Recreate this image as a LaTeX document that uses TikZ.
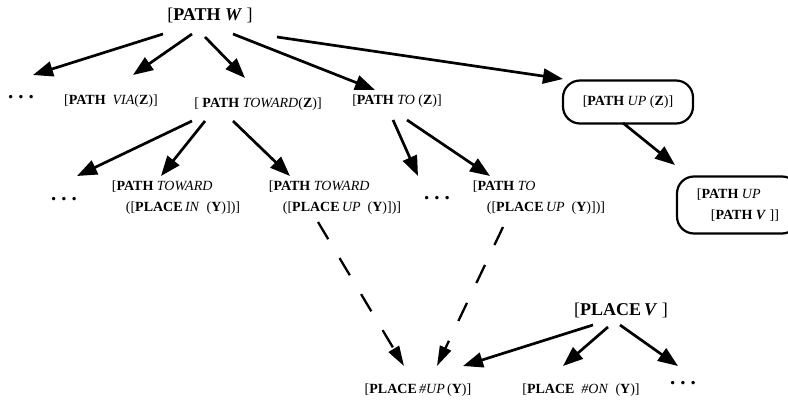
\documentclass[tikz,border=0pt]{standalone}
\usepackage{fontspec}
\setmainfont{Liberation Serif}
\usetikzlibrary{arrows.meta, calc, positioning}
\tikzset{
  lbl/.style={font=\fontsize{14}{21}\selectfont, inner sep=0pt, align=left},
  big/.style={font=\fontsize{18}{20}\selectfont, inner sep=0pt},
  dots/.style={font=\fontsize{21}{20}\selectfont\bfseries, inner sep=0pt},
  roundbox/.style={draw, line width=2.2pt, rounded corners=17pt, inner sep=0pt},
  arrow/.style={-{Triangle[length=20pt,width=15pt]}, line width=2.7pt},
  dasharrow/.style={-{Triangle[length=20pt,width=12pt]}, line width=2.3pt, dash pattern=on 20pt off 22pt}
}
\newcommand{\threedots}{.\hspace{5pt}.\hspace{5pt}.}
\begin{document}
\begin{tikzpicture}[x=1pt, y=1pt]
\useasboundingbox (0,0) rectangle (788,402);
\clip (0,0) rectangle (788,402);
% top level
\node[big] (w) at (210,387) {[\textbf{PATH \textit{W}} ]};
% first row
\node[dots] (dotsA) at (21,305) {\threedots};
\node[lbl] (via) at (111,301) {[\textbf{PATH}~~\textit{VIA}(\textbf{Z})]};
\node[lbl] (toward) at (258,298) {[ \textbf{PATH} \textit{TOWARD}(\textbf{Z})]};
\node[lbl] (to) at (397,301) {[\textbf{PATH} \textit{TO} (\textbf{Z})]};
\node[lbl, roundbox, minimum width=130pt, minimum height=43pt] (upz) at (628,300) {[\textbf{PATH} \textit{UP} (\textbf{Z})]};
% second row
\node[dots] (dotsB) at (64,203) {\threedots};
\node[lbl] (twin) at (176,204) {[\textbf{PATH} \textit{TOWARD}\\\hspace*{1em}([\textbf{PLACE}\,\textit{IN}~~(\textbf{Y})])]};
\node[lbl] (twup) at (335,204) {[\textbf{PATH} \textit{TOWARD}\\\hspace*{1em}([\textbf{PLACE}\,\textit{UP}~~(\textbf{Y})])]};
\node[dots] (dotsC) at (437,204) {\threedots};
\node[lbl] (toup) at (539,204) {[\textbf{PATH} \textit{TO}\\\hspace*{1em}([\textbf{PLACE}\,\textit{UP}~~(\textbf{Y})])]};
\node[lbl, roundbox, minimum width=122pt, minimum height=57pt] (upv) at (738,197) {[\textbf{PATH}~\textit{UP}\\\hspace*{1em}[\textbf{PATH} \textbf{\textit{V}}~]]};
% places
\node[big] (plv) at (621,92) {[\textbf{PLACE\,\textit{V}} ]};
\node[lbl] (plup) at (418,12) {[\textbf{PLACE}\,\textit{\#UP}\,(\textbf{Y})]};
\node[lbl] (plon) at (581,12) {[\textbf{PLACE}~~\textit{\#ON}~~(\textbf{Y})]};
\node[dots] (dotsD) at (683,19) {\threedots};
% connectors
\draw[arrow] ($(w)+(-47,-19)$) -- ($(dotsA)+(12,22)$);
\draw[arrow] ($(w)+(-18,-19)$) -- ($(via)+(22,26)$);
\draw[arrow] ($(w)+(-5,-22)$) -- ($(toward)+(-13,26)$);
\draw[arrow] ($(w)+(23,-19)$) -- ($(to)+(-22,11)$);
\draw[arrow] ($(w)+(67,-22)$) -- ($(upz)+(-65,23)$);
\draw[arrow] ($(toward)+(-66,-17)$) -- ($(dotsB)+(13,23)$);
\draw[arrow] ($(toward)+(-53,-17)$) -- ($(twin)+(-15,22)$);
\draw[arrow] ($(toward)+(-25,-17)$) -- ($(twup)+(-45,22)$);
\draw[arrow] ($(to)+(-4,-19)$) -- ($(dotsC)+(-19,22)$);
\draw[arrow] ($(to)+(10,-19)$) -- ($(toup)+(-49,22)$);
\draw[arrow] ($(upz)+(-5,-21)$) -- ($(upv)+(-63,40)$);
\draw[dasharrow] ($(twup)+(-17,-24)$) -- ($(plup)+(-14,24)$);
\draw[dasharrow] ($(toup)+(-36,-29)$) -- ($(plup)+(19,24)$);
\draw[arrow] ($(plv)+(-28,-15)$) -- ($(plup)+(45,24)$);
\draw[arrow] ($(plv)+(-13,-17)$) -- ($(plon)+(-18,24)$);
\draw[arrow] ($(plv)+(-1,-15)$) -- ($(dotsD)+(-5,17)$);
\end{tikzpicture}
\end{document}
